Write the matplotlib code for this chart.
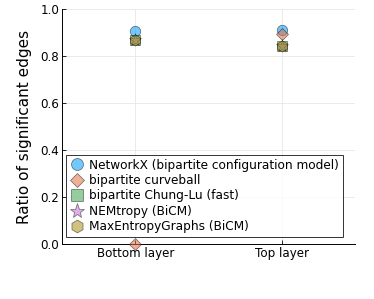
import matplotlib
matplotlib.use("Agg")
import matplotlib.pyplot as plt

layers = ["Bottom layer", "Top layer"]
methods = ["NetworkX (bipartite configuration model)", "bipartite curveball",
           "bipartite Chung-Lu (fast)", "NEMtropy (BiCM)", "MaxEntropyGraphs (BiCM)"]
ratios = {
    "NetworkX (bipartite configuration model)": [0.905, 0.912],
    "bipartite curveball": [0.0, 0.895],
    "bipartite Chung-Lu (fast)": [0.866, 0.841],
    "NEMtropy (BiCM)": [0.866, 0.841],
    "MaxEntropyGraphs (BiCM)": [0.866, 0.841],
}
colors = ["#009AFA", "#E36F47", "#3EA44E", "#C271D2", "#AC8E18"]
markers = ["o", "D", "s", "*", "h"]
sizes = [7.5, 6.0, 7.0, 9.5, 8.0]

xs = [0.5, 1.5]

fig = plt.figure(figsize=(3.74, 2.99), dpi=100)
ax = fig.add_axes([0.166, 0.184, 0.783, 0.786])

for m, c, mk, ms in zip(methods, colors, markers, sizes):
    ax.plot(xs, ratios[m], linestyle="none", marker=mk, markersize=ms,
            markerfacecolor=c, markeredgecolor="black", markeredgewidth=0.5,
            alpha=0.55, label=m, clip_on=False, zorder=3)

ax.set_xlim(0, 2)
ax.set_ylim(0, 1)
ax.set_xticks(xs)
ax.set_xticklabels(layers)
ax.set_yticks([0, 0.2, 0.4, 0.6, 0.8, 1.0])
ax.set_yticklabels(["0.0", "0.2", "0.4", "0.6", "0.8", "1.0"])
ax.tick_params(direction="in", length=3, width=0.6, labelsize=8.6, pad=2)
ax.grid(True, color="#e6e6e6", linewidth=0.6)
ax.set_axisbelow(True)
for s in ["top", "right"]:
    ax.spines[s].set_visible(False)
for s in ["left", "bottom"]:
    ax.spines[s].set_linewidth(0.7)
ax.set_ylabel("Ratio of significant edges", fontsize=11, labelpad=6)

leg = ax.legend(loc="lower left", bbox_to_anchor=(0.014, 0.03), fontsize=8.7,
                frameon=True, fancybox=False, edgecolor="black",
                handletextpad=0.4, borderpad=0.3, labelspacing=0.2,
                handlelength=1.2, borderaxespad=0, markerscale=1.15)
leg.get_frame().set_linewidth(0.7)

fig.savefig("out.png", dpi=100)
